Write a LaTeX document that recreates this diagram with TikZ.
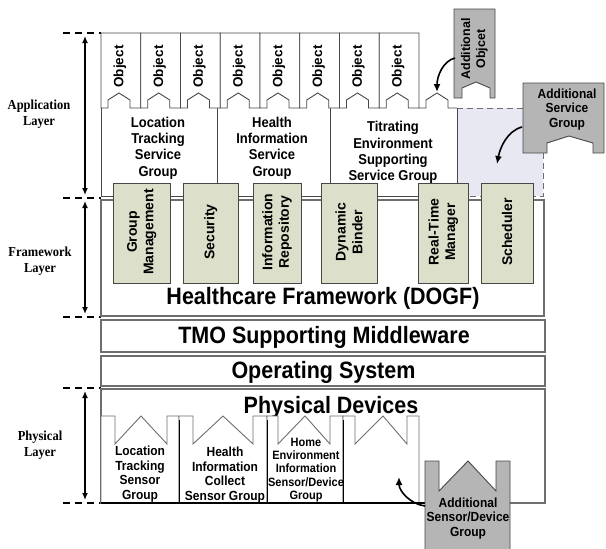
\documentclass[tikz,border=0pt]{standalone}
\usepackage{fontspec}
\setmainfont{Liberation Sans}
\newfontfamily\labelserif{Liberation Serif}
\usetikzlibrary{arrows.meta}
\definecolor{boxline}{HTML}{6E6E6E}
\definecolor{darkline}{HTML}{474747}
\definecolor{greenfill}{HTML}{DCDFC9}
\definecolor{addgray}{HTML}{B5B5B5}
\definecolor{lavfill}{HTML}{E8E8F2}
\begin{document}
\begin{tikzpicture}[x=1pt,y=-1pt,
  bigbox/.style={draw=boxline,line width=1.2pt,fill=white},
  tabline/.style={draw=darkline,line width=0.9pt},
  sensline/.style={draw=boxline,line width=0.9pt},
  grnbox/.style={draw=darkline,line width=0.9pt,fill=greenfill},
  addbox/.style={draw=darkline,line width=0.9pt,fill=addgray},
  svctxt/.style={inner sep=0pt,align=center,yscale=1.1,font=\bfseries\fontsize{13}{14.9}\selectfont},
  sentxt/.style={inner sep=0pt,align=center,yscale=1.1,font=\bfseries\fontsize{12}{13.4}\selectfont},
  hometxt/.style={inner sep=0pt,align=center,yscale=1.1,font=\bfseries\fontsize{11}{12.1}\selectfont},
  addtxt/.style={inner sep=0pt,align=center,yscale=1.1,font=\bfseries\fontsize{12}{13.2}\selectfont},
  bigtxt/.style={inner sep=0pt,anchor=base,yscale=1.1,font=\bfseries\fontsize{21.5}{24}\selectfont},
  lbl/.style={inner sep=0pt,align=center,yscale=1.1,font=\labelserif\bfseries\fontsize{12.5}{14.5}\selectfont},
  objtxt/.style={inner sep=0pt,rotate=90,font=\bfseries\fontsize{13.5}{15}\selectfont},
  grntxt/.style={inner sep=0pt,rotate=90,align=center,font=\bfseries\fontsize{14}{16.7}\selectfont},
  aotxt/.style={inner sep=0pt,rotate=90,align=center,font=\bfseries\fontsize{12.5}{15}\selectfont},
  dashmark/.style={line width=1.4pt,dash pattern=on 7pt off 5pt},
  layerarrow/.style={line width=1.3pt,{Latex[length=7pt,width=6pt]}-{Latex[length=7pt,width=6pt]}},
  curvarrow/.style={line width=1.6pt,-{Latex[length=8pt,width=7pt]}}
]
\useasboundingbox (0,0) rectangle (606,549);

% ---------- layer markers on the left ----------
\foreach \yy/\nm in {33/da,198/db,317/dc,388/dd,503/de}{
  \coordinate (\nm1) at (63,\yy);
  \coordinate (\nm2) at (101,\yy);
  \draw[dashmark] (\nm1) -- (\nm2);
}
\coordinate (appA) at (85,36);  \coordinate (appB) at (85,195);
\coordinate (fwA) at (85,201);  \coordinate (fwB) at (85,314);
\coordinate (phA) at (85,391);  \coordinate (phB) at (85,500);
\draw[layerarrow] (appA) -- (appB);
\draw[layerarrow] (fwA) -- (fwB);
\draw[layerarrow] (phA) -- (phB);
\node[lbl] (applbl) at (39,114) {Application\\Layer};
\node[lbl] (fwlbl) at (40,261) {Framework\\Layer};
\node[lbl] (phlbl) at (40,445) {Physical\\Layer};

% ---------- application layer ----------
\fill[lavfill] (457,108) rectangle (543,196);
\draw[boxline,line width=1pt,dash pattern=on 6pt off 4pt] (457,108) -- (523,108) (543,153) -- (543,196) -- (457,196);
\draw[tabline] (101,108) -- (101,196) -- (457,196) -- (457,108);
\draw[tabline] (217,108) -- (217,196) (330,108) -- (330,196);

\foreach \i in {0,...,7}{
  \pgfmathsetmacro{\xa}{101+39.75*\i}
  \draw[tabline,fill=white] (\xa,33) -- ++(39.75,0) -- ++(0,75) -- ++(-10.75,0) -- ++(0,-8)
     -- ++(-11,-7) -- ++(-11,7) -- ++(0,8) -- ++(-7,0) -- cycle;
  \node[objtxt] (obj\i) at (\xa+19,66.5) {Object};
}
\draw[tabline] (419,108) -- (426,108) -- (426,100) -- (437,93) -- (448,100) -- (448,108) -- (457,108);

\node[svctxt] (lts) at (158,148) {Location\\Tracking\\Service\\Group};
\node[svctxt] (his) at (272,148) {Health\\Information\\Service\\Group};
\node[svctxt] (tes) at (393,152.5) {Titrating\\Environment\\Supporting\\Service Group};

% ---------- framework / middleware / OS ----------
\draw[bigbox] (101,200) rectangle (544,316);
\node[bigtxt] (fwtext) at (323,304) {Healthcare Framework (DOGF)};
\draw[bigbox] (101,320) rectangle (545,352);
\node[bigtxt] (tmo) at (324,343) {TMO Supporting Middleware};
\draw[bigbox] (101,356) rectangle (545,386);
\node[bigtxt] (os) at (323.5,378) {Operating System};

\draw[grnbox] (113,183) rectangle (170,283);
\node[grntxt] (gm) at (141.7,232) {Group\\Management};
\draw[grnbox] (183,183) rectangle (238,283);
\node[grntxt] (sec) at (210.8,232) {Security};
\draw[grnbox] (253,183) rectangle (301,283);
\node[grntxt] (ir) at (277,232) {Information\\Repository};
\draw[grnbox] (321,183) rectangle (377,283);
\node[grntxt] (db) at (349,232) {Dynamic\\Binder};
\draw[grnbox] (418,183) rectangle (468,283);
\node[grntxt] (rtm) at (443.3,232) {Real-Time\\Manager};
\draw[grnbox] (481,183) rectangle (533,283);
\node[grntxt] (sch) at (507,232) {Scheduler};

% ---------- additional application items ----------
\draw[addbox] (523,83) -- (604,83) -- (604,153) -- (593,153) -- (593,143) -- (569,136)
   -- (547,143) -- (547,153) -- (523,153) -- cycle;
\node[addtxt] (asg) at (567,109.5) {Additional\\Service\\Group};
\draw[addbox] (454,9) -- (495,9) -- (495,98) -- (490,98) -- (490,88) -- (476,82)
   -- (462,88) -- (462,98) -- (454,98) -- cycle;
\node[aotxt] (aobj) at (474.5,49) {Additional\\Objcet};

\coordinate (aoS) at (455,58);  \coordinate (aoE) at (437,92);
\draw[curvarrow] (aoS) .. controls +(-12,3) and +(0,-16) .. (aoE);
\coordinate (asS) at (522,127); \coordinate (asE) at (497,164);
\draw[curvarrow] (asS) .. controls +(-15,4) and +(3,-16) .. (asE);

% ---------- physical layer ----------
\draw[bigbox] (101,389) rectangle (545,503);
\node[bigtxt] (pd) at (331,413) {Physical Devices};

\draw[sensline,fill=white] (101,503) -- (101,416) -- (115,416) -- (115,444) -- (141,416) -- (167,444) -- (167,416) -- (179,416) -- (179,503);
\draw[sensline,fill=white] (179,503) -- (179,416) -- (193,416) -- (193,444) -- (223,416) -- (253,444) -- (253,416) -- (267,416) -- (267,503);
\draw[sensline,fill=white] (267,503) -- (267,416) -- (278,416) -- (278,444) -- (305,416) -- (330,444) -- (330,416) -- (343,416) -- (343,503);
\draw[sensline,fill=white] (343,503) -- (343,416) -- (355,416) -- (355,444) -- (383,416) -- (407,444) -- (407,416) -- (419,416) -- (419,503);
\draw[black,line width=1pt] (179,420) -- (179,503) (267,420) -- (267,503) (343,420) -- (343,503);
\draw[black,line width=1.2pt] (101,503) -- (426,503);

\node[sentxt] (lts2) at (140,474) {Location\\Tracking\\Sensor\\Group};
\node[sentxt] (hics) at (225,475) {Health\\Information\\Collect\\Sensor Group};
\node[hometxt] (heis) at (306,470) {Home\\Environment\\Information\\Sensor/Device\\Group};

\draw[addbox] (425,549) -- (425,461) -- (439,461) -- (439,491) -- (468,461) -- (496,491)
   -- (496,461) -- (510,461) -- (510,549);
\node[addtxt] (asd) at (468,518.5) {Additional\\Sensor/Device\\Group};

\coordinate (adS) at (425,506); \coordinate (adE) at (399,477);
\draw[curvarrow] (adS) .. controls +(-15,-2) and +(0,14) .. (adE);
\end{tikzpicture}
\end{document}
